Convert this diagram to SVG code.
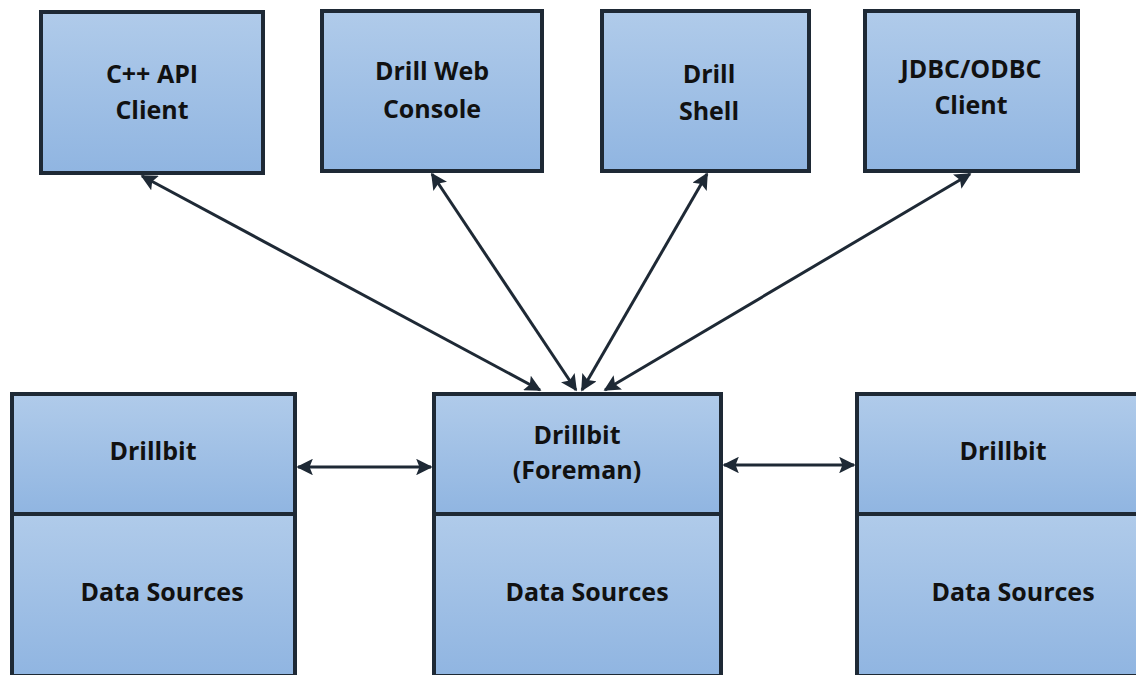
<svg xmlns="http://www.w3.org/2000/svg" width="1136" height="675" viewBox="0 0 1136 675">
<defs>
<linearGradient id="g" x1="0" y1="0" x2="0" y2="1">
<stop offset="0" stop-color="#b0cbea"/>
<stop offset="1" stop-color="#90b5e1"/>
</linearGradient>
<marker id="ah" viewBox="0 0 10 10" refX="9" refY="5" markerWidth="5.5" markerHeight="5.5" orient="auto-start-reverse" markerUnits="strokeWidth">
<path d="M0,0 L10,5 L0,10 L2,5 Z" fill="#1e2935"/>
</marker>
<style>
.box{fill:url(#g);stroke:#1e2935;stroke-width:4}
.t{font-family:"Open Sans",Lato,sans-serif;font-weight:bold;font-size:25px;fill:#111;text-anchor:middle}
.c{stroke:#1e2935;stroke-width:3;fill:none;marker-start:url(#ah);marker-end:url(#ah)}
</style>
</defs>
<rect width="1136" height="675" fill="#fff"/>
<g id="cpp"><rect class="box" x="41" y="12" width="222" height="161"/><text class="t" x="152" y="83">C++ API</text><text class="t" x="152" y="119">Client</text></g>
<g id="web"><rect class="box" x="322" y="11" width="220" height="160"/><text class="t" x="432" y="80">Drill Web</text><text class="t" x="432" y="118">Console</text></g>
<g id="shell"><rect class="box" x="602" y="11" width="207" height="160"/><text class="t" x="709" y="83">Drill</text><text class="t" x="709" y="120">Shell</text></g>
<g id="jdbc"><rect class="box" x="865" y="11" width="213" height="160"/><text class="t" x="971" y="78">JDBC/ODBC</text><text class="t" x="971" y="114">Client</text></g>
<g id="left"><rect class="box" x="12" y="394" width="283" height="120"/><rect class="box" x="12" y="514" width="283" height="162"/><text class="t" x="153" y="460">Drillbit</text><text class="t" x="162" y="601">Data Sources</text></g>
<g id="foreman"><rect class="box" x="434" y="394" width="287" height="120"/><rect class="box" x="434" y="514" width="287" height="162"/><text class="t" x="577" y="444">Drillbit</text><text class="t" x="577" y="479">(Foreman)</text><text class="t" x="587" y="601">Data Sources</text></g>
<g id="right"><rect class="box" x="857" y="394" width="283" height="120"/><rect class="box" x="857" y="514" width="283" height="162"/><text class="t" x="1003" y="460">Drillbit</text><text class="t" x="1013" y="601">Data Sources</text></g>
<g id="connectors">
<line class="c" x1="540" y1="390" x2="142" y2="176"/>
<line class="c" x1="576" y1="390" x2="432" y2="174"/>
<line class="c" x1="582" y1="390" x2="707" y2="174"/>
<line class="c" x1="605" y1="390" x2="970" y2="174"/>
<line class="c" x1="298" y1="467" x2="431" y2="467"/>
<line class="c" x1="724" y1="465" x2="854" y2="465"/>
</g>
</svg>
